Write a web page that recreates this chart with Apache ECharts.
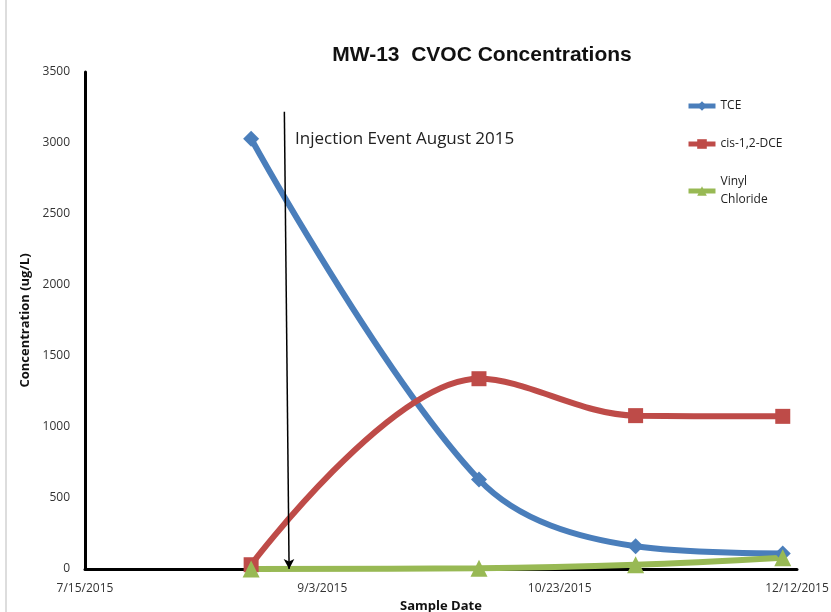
<!DOCTYPE html>
<html>
<head>
<meta charset="utf-8">
<script src="https://cdn.jsdelivr.net/npm/echarts@6/dist/echarts.min.js"></script>
<style>html,body{margin:0;padding:0;background:#fff;}#c{width:831px;height:612px;}</style>
</head>
<body>
<div id="c"></div>
<script>
var startDate = '2015-07-15';
var sampleDates = ['2015-08-19', '2015-10-06', '2015-11-08', '2015-12-09'];
var tce = [3030, 630, 160, 110];
var dce = [30, 1340, 1080, 1075];
var vinyl = [0, 5, 30, 80];
var injectionArrow = [['2015-08-26', 3220], ['2015-08-27', 0]];
var injectionLabel = 'Injection Event August 2015';

function dayOffset(s) {
  var a = s.split('-').map(Number), b = startDate.split('-').map(Number);
  return (Date.UTC(a[0], a[1]-1, a[2]) - Date.UTC(b[0], b[1]-1, b[2])) / 86400000;
}
function fmt(v) {
  var b = startDate.split('-').map(Number);
  var d = new Date(Date.UTC(b[0], b[1]-1, b[2]) + v*86400000);
  return (d.getUTCMonth()+1) + '/' + d.getUTCDate() + '/' + d.getUTCFullYear();
}
function pairs(vals) { return sampleDates.map(function(d,i){ return [dayOffset(d), vals[i]]; }); }

var chart = echarts.init(document.getElementById('c'));
var font = 'Open Sans, Liberation Sans, sans-serif';
var lineW = 6;
function mkSeries(name, vals, color, symbol, size) {
  return {
    name: name, type: 'line', data: pairs(vals), smooth: 0.35,
    symbol: symbol, symbolSize: size,
    lineStyle: { width: lineW, color: color },
    itemStyle: { color: color },
    z: 3
  };
}
var s1 = mkSeries('TCE', tce, '#4a7ebb', 'diamond', 16);
var s2 = mkSeries('cis-1,2-DCE', dce, '#be4b48', 'rect', 15);
var s3 = mkSeries('Vinyl\nChloride', vinyl, '#98b954', 'triangle', 17);
s1.markLine = {
  silent: true,
  symbol: ['none', 'arrow'], symbolSize: [8, 10],
  lineStyle: { color: '#000', width: 1.5, type: 'solid' },
  label: { show: false },
  data: [[{ coord: [dayOffset(injectionArrow[0][0]), injectionArrow[0][1]] },
          { coord: [dayOffset(injectionArrow[1][0]), injectionArrow[1][1]] }]]
};

chart.setOption({
  backgroundColor: '#fff',
  animation: false,
  title: {
    text: 'MW-13  CVOC Concentrations',
    left: 477, top: 40, textAlign: 'center',
    textStyle: { fontFamily: 'Liberation Sans, sans-serif', fontWeight: 'bold', fontSize: 21, color: '#111' }
  },
  legend: {
    orient: 'vertical', left: 686, top: 97, itemGap: 20, padding: 0,
    itemWidth: 27, itemHeight: 12,
    lineStyle: { width: 5 },
    textStyle: { fontFamily: font, fontSize: 12, color: '#222', lineHeight: 18 },
    data: ['TCE', 'cis-1,2-DCE', 'Vinyl\nChloride']
  },
  grid: { left: 85, right: 34, top: 72, bottom: 43, containLabel: false, outerBoundsMode: 'none' },
  xAxis: {
    type: 'value', min: 0, max: 150, interval: 50,
    name: 'Sample Date', nameLocation: 'middle', nameGap: 30,
    nameTextStyle: { fontFamily: font, fontWeight: 'bold', fontSize: 13, color: '#111' },
    axisLine: { lineStyle: { color: '#000', width: 3 } },
    axisTick: { show: false },
    splitLine: { show: false },
    axisLabel: { formatter: fmt, fontFamily: font, fontSize: 12, color: '#333', margin: 14 }
  },
  yAxis: {
    type: 'value', min: 0, max: 3500, interval: 500,
    name: 'Concentration (ug/L)', nameLocation: 'middle', nameGap: 45,
    nameTextStyle: { fontFamily: font, fontWeight: 'bold', fontSize: 13, color: '#111' },
    axisLine: { show: true, lineStyle: { color: '#000', width: 3 } },
    axisTick: { show: false },
    splitLine: { show: false },
    axisLabel: { formatter: function(v){ return String(v); }, fontFamily: font, fontSize: 12, color: '#333', margin: 15 }
  },
  graphic: [
    { type: 'line', shape: { x1: 6, y1: 0, x2: 6, y2: 612 }, style: { stroke: '#bbb', lineWidth: 1 } },
    { type: 'text', left: 295, top: 131, style: { text: injectionLabel, font: '17px Open Sans, Liberation Sans, sans-serif', fill: '#222' } }
  ],
  series: [s1, s2, s3]
});
</script>
</body>
</html>
